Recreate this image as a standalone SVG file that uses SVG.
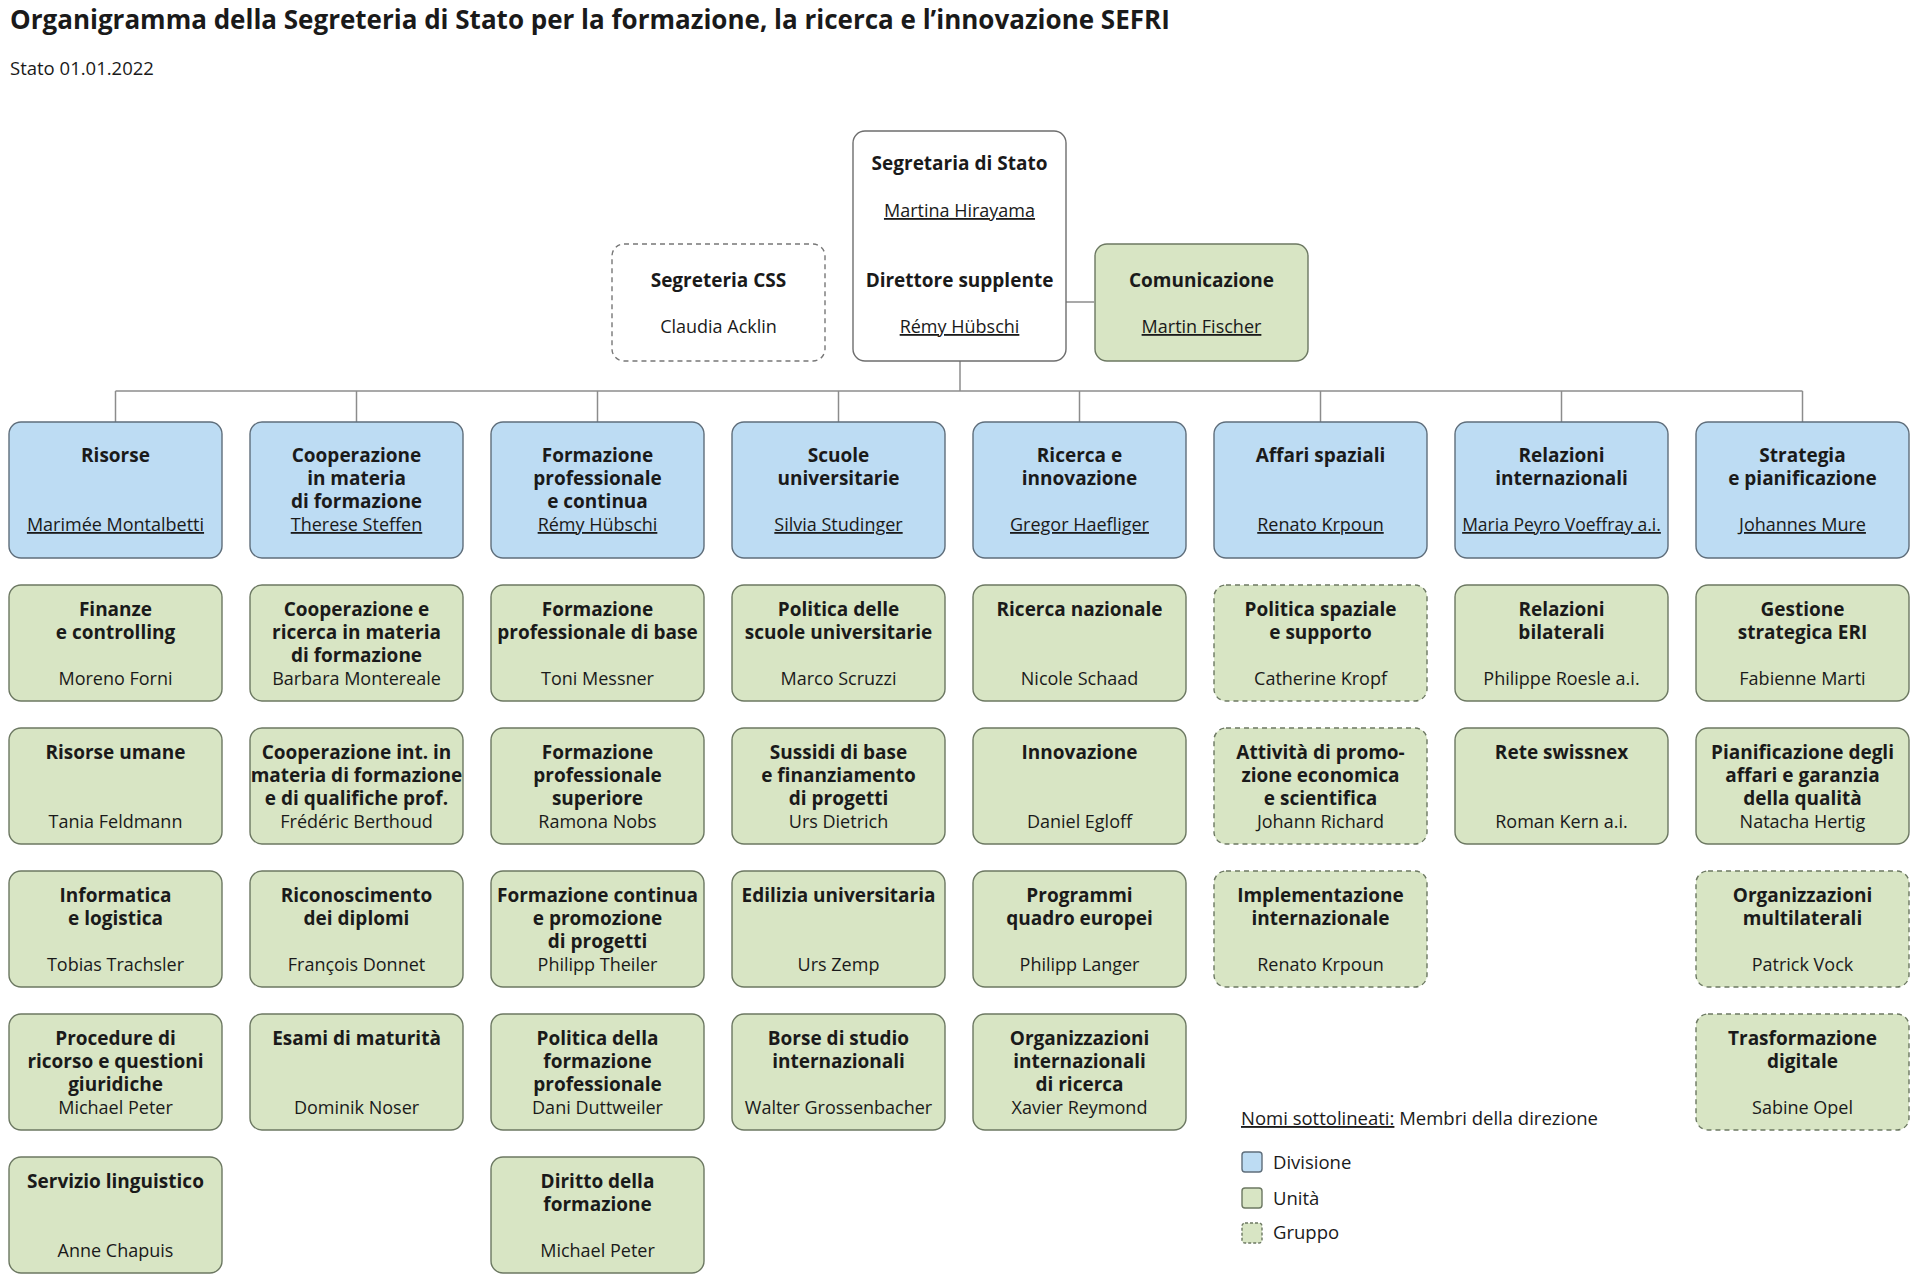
<svg xmlns="http://www.w3.org/2000/svg" width="1920" height="1280" viewBox="0 0 1920 1280">
<style>
text{font-family:"Open Sans","Noto Sans",sans-serif;fill:#1a1a1a;text-anchor:middle}
.h{font-weight:700;font-size:19px}
.n{font-size:18px}
.u{text-decoration:underline}
.title{font-weight:700;font-size:26px;text-anchor:start}
.sub{font-size:18.5px;text-anchor:start}
.leg{font-size:18.5px;text-anchor:start}
.top{fill:#ffffff;stroke:#6e6e6e;stroke-width:1.4}
.css{fill:#ffffff;stroke:#777777;stroke-width:1.4;stroke-dasharray:5 4}
.div{fill:#bddcf3;stroke:#5f6e7b;stroke-width:1.4}
.unit{fill:#d8e5c4;stroke:#6c7862;stroke-width:1.4}
.grp{fill:#d8e5c4;stroke:#6c7862;stroke-width:1.4;stroke-dasharray:5 4}
.con{stroke:#8c8c8c;stroke-width:1.5;fill:none}
</style>

<text class="title" x="10" y="29">Organigramma della Segreteria di Stato per la formazione, la ricerca e l’innovazione SEFRI</text>
<text class="sub" x="10" y="75">Stato 01.01.2022</text>

<g id="connectors">
<line class="con" x1="960" y1="361" x2="960" y2="391"/>
<line class="con" x1="1066" y1="302" x2="1094" y2="302"/>
<line class="con" x1="115.5" y1="391" x2="1802.5" y2="391"/>
<line class="con" x1="115.5" y1="391" x2="115.5" y2="422"/>
<line class="con" x1="356.5" y1="391" x2="356.5" y2="422"/>
<line class="con" x1="597.5" y1="391" x2="597.5" y2="422"/>
<line class="con" x1="838.5" y1="391" x2="838.5" y2="422"/>
<line class="con" x1="1079.5" y1="391" x2="1079.5" y2="422"/>
<line class="con" x1="1320.5" y1="391" x2="1320.5" y2="422"/>
<line class="con" x1="1561.5" y1="391" x2="1561.5" y2="422"/>
<line class="con" x1="1802.5" y1="391" x2="1802.5" y2="422"/>
</g>

<g id="segreteria-stato">
<rect class="top" x="853" y="131" width="213" height="230" rx="12"/>
<text class="h" x="959.5" y="170">Segretaria di Stato</text>
<text class="n u" x="959.5" y="217">Martina Hirayama</text>
<text class="h" x="959.5" y="287">Direttore supplente</text>
<text class="n u" x="959.5" y="333">Rémy Hübschi</text>
</g>
<g id="segreteria-css">
<rect class="css" x="612" y="244" width="213" height="117" rx="12"/>
<text class="h" x="718.5" y="287">Segreteria CSS</text>
<text class="n" x="718.5" y="333">Claudia Acklin</text>
</g>
<g id="comunicazione">
<rect class="unit" x="1095" y="244" width="213" height="117" rx="12"/>
<text class="h" x="1201.5" y="287">Comunicazione</text>
<text class="n u" x="1201.5" y="333">Martin Fischer</text>
</g>

<!-- Divisions -->
<g id="div-risorse">
<rect class="div" x="9" y="422" width="213" height="136" rx="12"/>
<text class="h" x="115.5" y="462">Risorse</text>
<text class="n u" x="115.5" y="531">Marimée Montalbetti</text>
</g>
<g id="div-cooperazione">
<rect class="div" x="250" y="422" width="213" height="136" rx="12"/>
<text class="h" x="356.5" y="462">Cooperazione</text>
<text class="h" x="356.5" y="485">in materia</text>
<text class="h" x="356.5" y="508">di formazione</text>
<text class="n u" x="356.5" y="531">Therese Steffen</text>
</g>
<g id="div-formazione">
<rect class="div" x="491" y="422" width="213" height="136" rx="12"/>
<text class="h" x="597.5" y="462">Formazione</text>
<text class="h" x="597.5" y="485">professionale</text>
<text class="h" x="597.5" y="508">e continua</text>
<text class="n u" x="597.5" y="531">Rémy Hübschi</text>
</g>
<g id="div-scuole">
<rect class="div" x="732" y="422" width="213" height="136" rx="12"/>
<text class="h" x="838.5" y="462">Scuole</text>
<text class="h" x="838.5" y="485">universitarie</text>
<text class="n u" x="838.5" y="531">Silvia Studinger</text>
</g>
<g id="div-ricerca">
<rect class="div" x="973" y="422" width="213" height="136" rx="12"/>
<text class="h" x="1079.5" y="462">Ricerca e</text>
<text class="h" x="1079.5" y="485">innovazione</text>
<text class="n u" x="1079.5" y="531">Gregor Haefliger</text>
</g>
<g id="div-spaziali">
<rect class="div" x="1214" y="422" width="213" height="136" rx="12"/>
<text class="h" x="1320.5" y="462">Affari spaziali</text>
<text class="n u" x="1320.5" y="531">Renato Krpoun</text>
</g>
<g id="div-relazioni">
<rect class="div" x="1455" y="422" width="213" height="136" rx="12"/>
<text class="h" x="1561.5" y="462">Relazioni</text>
<text class="h" x="1561.5" y="485">internazionali</text>
<text class="n u" x="1561.5" y="531" style="font-size:17.5px">Maria Peyro Voeffray a.i.</text>
</g>
<g id="div-strategia">
<rect class="div" x="1696" y="422" width="213" height="136" rx="12"/>
<text class="h" x="1802.5" y="462">Strategia</text>
<text class="h" x="1802.5" y="485">e pianificazione</text>
<text class="n u" x="1802.5" y="531">Johannes Mure</text>
</g>

<!-- Column 0 -->
<g id="u-finanze">
<rect class="unit" x="9" y="585" width="213" height="116" rx="12"/>
<text class="h" x="115.5" y="616">Finanze</text>
<text class="h" x="115.5" y="639">e controlling</text>
<text class="n" x="115.5" y="685">Moreno Forni</text>
</g>
<g id="u-risorse-umane">
<rect class="unit" x="9" y="728" width="213" height="116" rx="12"/>
<text class="h" x="115.5" y="759">Risorse umane</text>
<text class="n" x="115.5" y="828">Tania Feldmann</text>
</g>
<g id="u-informatica">
<rect class="unit" x="9" y="871" width="213" height="116" rx="12"/>
<text class="h" x="115.5" y="902">Informatica</text>
<text class="h" x="115.5" y="925">e logistica</text>
<text class="n" x="115.5" y="971">Tobias Trachsler</text>
</g>
<g id="u-procedure">
<rect class="unit" x="9" y="1014" width="213" height="116" rx="12"/>
<text class="h" x="115.5" y="1045">Procedure di</text>
<text class="h" x="115.5" y="1068">ricorso e questioni</text>
<text class="h" x="115.5" y="1091">giuridiche</text>
<text class="n" x="115.5" y="1114">Michael Peter</text>
</g>
<g id="u-servizio">
<rect class="unit" x="9" y="1157" width="213" height="116" rx="12"/>
<text class="h" x="115.5" y="1188">Servizio linguistico</text>
<text class="n" x="115.5" y="1257">Anne Chapuis</text>
</g>

<!-- Column 1 -->
<g id="u-coop-ricerca">
<rect class="unit" x="250" y="585" width="213" height="116" rx="12"/>
<text class="h" x="356.5" y="616">Cooperazione e</text>
<text class="h" x="356.5" y="639">ricerca in materia</text>
<text class="h" x="356.5" y="662">di formazione</text>
<text class="n" x="356.5" y="685">Barbara Montereale</text>
</g>
<g id="u-coop-int">
<rect class="unit" x="250" y="728" width="213" height="116" rx="12"/>
<text class="h" x="356.5" y="759">Cooperazione int. in</text>
<text class="h" x="356.5" y="782">materia di formazione</text>
<text class="h" x="356.5" y="805">e di qualifiche prof.</text>
<text class="n" x="356.5" y="828">Frédéric Berthoud</text>
</g>
<g id="u-riconoscimento">
<rect class="unit" x="250" y="871" width="213" height="116" rx="12"/>
<text class="h" x="356.5" y="902">Riconoscimento</text>
<text class="h" x="356.5" y="925">dei diplomi</text>
<text class="n" x="356.5" y="971">François Donnet</text>
</g>
<g id="u-esami">
<rect class="unit" x="250" y="1014" width="213" height="116" rx="12"/>
<text class="h" x="356.5" y="1045">Esami di maturità</text>
<text class="n" x="356.5" y="1114">Dominik Noser</text>
</g>

<!-- Column 2 -->
<g id="u-fp-base">
<rect class="unit" x="491" y="585" width="213" height="116" rx="12"/>
<text class="h" x="597.5" y="616">Formazione</text>
<text class="h" x="597.5" y="639">professionale di base</text>
<text class="n" x="597.5" y="685">Toni Messner</text>
</g>
<g id="u-fp-superiore">
<rect class="unit" x="491" y="728" width="213" height="116" rx="12"/>
<text class="h" x="597.5" y="759">Formazione</text>
<text class="h" x="597.5" y="782">professionale</text>
<text class="h" x="597.5" y="805">superiore</text>
<text class="n" x="597.5" y="828">Ramona Nobs</text>
</g>
<g id="u-f-continua">
<rect class="unit" x="491" y="871" width="213" height="116" rx="12"/>
<text class="h" x="597.5" y="902">Formazione continua</text>
<text class="h" x="597.5" y="925">e promozione</text>
<text class="h" x="597.5" y="948">di progetti</text>
<text class="n" x="597.5" y="971">Philipp Theiler</text>
</g>
<g id="u-politica-fp">
<rect class="unit" x="491" y="1014" width="213" height="116" rx="12"/>
<text class="h" x="597.5" y="1045">Politica della</text>
<text class="h" x="597.5" y="1068">formazione</text>
<text class="h" x="597.5" y="1091">professionale</text>
<text class="n" x="597.5" y="1114">Dani Duttweiler</text>
</g>
<g id="u-diritto">
<rect class="unit" x="491" y="1157" width="213" height="116" rx="12"/>
<text class="h" x="597.5" y="1188">Diritto della</text>
<text class="h" x="597.5" y="1211">formazione</text>
<text class="n" x="597.5" y="1257">Michael Peter</text>
</g>

<!-- Column 3 -->
<g id="u-politica-su">
<rect class="unit" x="732" y="585" width="213" height="116" rx="12"/>
<text class="h" x="838.5" y="616">Politica delle</text>
<text class="h" x="838.5" y="639">scuole universitarie</text>
<text class="n" x="838.5" y="685">Marco Scruzzi</text>
</g>
<g id="u-sussidi">
<rect class="unit" x="732" y="728" width="213" height="116" rx="12"/>
<text class="h" x="838.5" y="759">Sussidi di base</text>
<text class="h" x="838.5" y="782">e finanziamento</text>
<text class="h" x="838.5" y="805">di progetti</text>
<text class="n" x="838.5" y="828">Urs Dietrich</text>
</g>
<g id="u-edilizia">
<rect class="unit" x="732" y="871" width="213" height="116" rx="12"/>
<text class="h" x="838.5" y="902">Edilizia universitaria</text>
<text class="n" x="838.5" y="971">Urs Zemp</text>
</g>
<g id="u-borse">
<rect class="unit" x="732" y="1014" width="213" height="116" rx="12"/>
<text class="h" x="838.5" y="1045">Borse di studio</text>
<text class="h" x="838.5" y="1068">internazionali</text>
<text class="n" x="838.5" y="1114">Walter Grossenbacher</text>
</g>

<!-- Column 4 -->
<g id="u-ricerca-nazionale">
<rect class="unit" x="973" y="585" width="213" height="116" rx="12"/>
<text class="h" x="1079.5" y="616">Ricerca nazionale</text>
<text class="n" x="1079.5" y="685">Nicole Schaad</text>
</g>
<g id="u-innovazione">
<rect class="unit" x="973" y="728" width="213" height="116" rx="12"/>
<text class="h" x="1079.5" y="759">Innovazione</text>
<text class="n" x="1079.5" y="828">Daniel Egloff</text>
</g>
<g id="u-programmi">
<rect class="unit" x="973" y="871" width="213" height="116" rx="12"/>
<text class="h" x="1079.5" y="902">Programmi</text>
<text class="h" x="1079.5" y="925">quadro europei</text>
<text class="n" x="1079.5" y="971">Philipp Langer</text>
</g>
<g id="u-org-ricerca">
<rect class="unit" x="973" y="1014" width="213" height="116" rx="12"/>
<text class="h" x="1079.5" y="1045">Organizzazioni</text>
<text class="h" x="1079.5" y="1068">internazionali</text>
<text class="h" x="1079.5" y="1091">di ricerca</text>
<text class="n" x="1079.5" y="1114">Xavier Reymond</text>
</g>

<!-- Column 5 -->
<g id="g-politica-spaziale">
<rect class="grp" x="1214" y="585" width="213" height="116" rx="12"/>
<text class="h" x="1320.5" y="616">Politica spaziale</text>
<text class="h" x="1320.5" y="639">e supporto</text>
<text class="n" x="1320.5" y="685">Catherine Kropf</text>
</g>
<g id="g-promozione">
<rect class="grp" x="1214" y="728" width="213" height="116" rx="12"/>
<text class="h" x="1320.5" y="759">Attività di promo-</text>
<text class="h" x="1320.5" y="782">zione economica</text>
<text class="h" x="1320.5" y="805">e scientifica</text>
<text class="n" x="1320.5" y="828">Johann Richard</text>
</g>
<g id="g-implementazione">
<rect class="grp" x="1214" y="871" width="213" height="116" rx="12"/>
<text class="h" x="1320.5" y="902">Implementazione</text>
<text class="h" x="1320.5" y="925">internazionale</text>
<text class="n" x="1320.5" y="971">Renato Krpoun</text>
</g>

<!-- Column 6 -->
<g id="u-bilaterali">
<rect class="unit" x="1455" y="585" width="213" height="116" rx="12"/>
<text class="h" x="1561.5" y="616">Relazioni</text>
<text class="h" x="1561.5" y="639">bilaterali</text>
<text class="n" x="1561.5" y="685">Philippe Roesle a.i.</text>
</g>
<g id="u-swissnex">
<rect class="unit" x="1455" y="728" width="213" height="116" rx="12"/>
<text class="h" x="1561.5" y="759">Rete swissnex</text>
<text class="n" x="1561.5" y="828">Roman Kern a.i.</text>
</g>

<!-- Column 7 -->
<g id="u-gestione">
<rect class="unit" x="1696" y="585" width="213" height="116" rx="12"/>
<text class="h" x="1802.5" y="616">Gestione</text>
<text class="h" x="1802.5" y="639">strategica ERI</text>
<text class="n" x="1802.5" y="685">Fabienne Marti</text>
</g>
<g id="u-pianificazione">
<rect class="unit" x="1696" y="728" width="213" height="116" rx="12"/>
<text class="h" x="1802.5" y="759">Pianificazione degli</text>
<text class="h" x="1802.5" y="782">affari e garanzia</text>
<text class="h" x="1802.5" y="805">della qualità</text>
<text class="n" x="1802.5" y="828">Natacha Hertig</text>
</g>
<g id="g-multilaterali">
<rect class="grp" x="1696" y="871" width="213" height="116" rx="12"/>
<text class="h" x="1802.5" y="902">Organizzazioni</text>
<text class="h" x="1802.5" y="925">multilaterali</text>
<text class="n" x="1802.5" y="971">Patrick Vock</text>
</g>
<g id="g-digitale">
<rect class="grp" x="1696" y="1014" width="213" height="116" rx="12"/>
<text class="h" x="1802.5" y="1045">Trasformazione</text>
<text class="h" x="1802.5" y="1068">digitale</text>
<text class="n" x="1802.5" y="1114">Sabine Opel</text>
</g>

<!-- Legend -->
<g id="legend">
<text class="leg" x="1241" y="1125"><tspan class="u">Nomi sottolineati:</tspan> Membri della direzione</text>
<rect class="div" x="1242" y="1152" width="20" height="20" rx="3"/>
<text class="leg" x="1273" y="1169">Divisione</text>
<rect class="unit" x="1242" y="1188" width="20" height="20" rx="3"/>
<text class="leg" x="1273" y="1205">Unità</text>
<rect class="grp" x="1242" y="1223" width="20" height="20" rx="3" style="stroke-dasharray:3 2"/>
<text class="leg" x="1273" y="1239">Gruppo</text>
</g>
</svg>
